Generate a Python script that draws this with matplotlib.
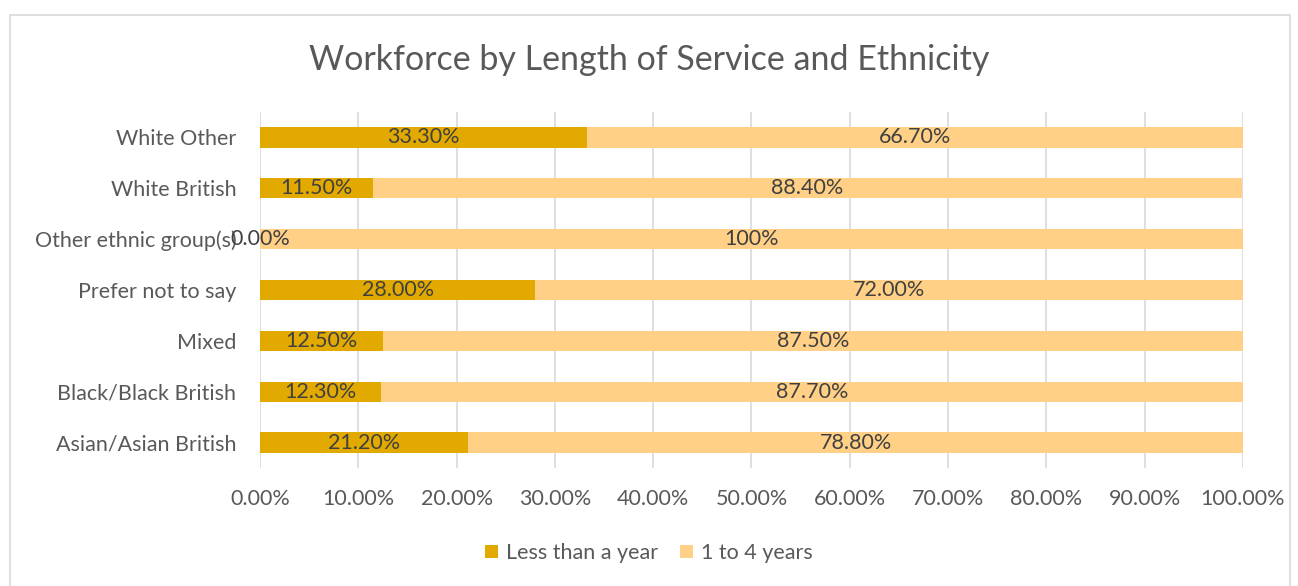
import numpy as np
import matplotlib.pyplot as plt
from matplotlib.patches import Rectangle

categories = ["Asian/Asian British", "Black/Black British", "Mixed", "Prefer not to say",
              "Other ethnic group(s)", "White British", "White Other"]
less_than_year = [21.2, 12.3, 12.5, 28.0, 0.0, 11.5, 33.3]
one_to_four = [78.8, 87.7, 87.5, 72.0, 100.0, 88.4, 66.7]
less_labels = ["21.20%", "12.30%", "12.50%", "28.00%", "0.00%", "11.50%", "33.30%"]
four_labels = ["78.80%", "87.70%", "87.50%", "72.00%", "100%", "88.40%", "66.70%"]
xticks = [0, 10, 20, 30, 40, 50, 60, 70, 80, 90, 100]

DARK = "#E2AA00"
LIGHT = "#FFD086"
TXT = "#595959"
FS = 15.5
plt.rcParams['font.family'] = ['Lato', 'DejaVu Sans']

W, H = 1298, 586
fig = plt.figure(figsize=(W / 100, H / 100), dpi=100)
ax = fig.add_axes([260 / W, 1 - 468 / H, (1243 - 260) / W, (468 - 112) / H])

y = np.arange(len(categories))
ax.barh(y, less_than_year, height=0.4, color=DARK, label="Less than a year", zorder=3)
ax.barh(y, one_to_four, height=0.4, left=less_than_year, color=LIGHT, label="1 to 4 years", zorder=3)

for i in range(len(categories)):
    ax.text(less_than_year[i] / 2, y[i], less_labels[i], ha="center", va="center",
            fontsize=FS, color="#404040", zorder=4)
    ax.text(less_than_year[i] + one_to_four[i] / 2, y[i], four_labels[i], ha="center", va="center",
            fontsize=FS, color="#404040", zorder=4)

ax.set_xlim(0, 100)
ax.set_ylim(-0.5, len(categories) - 0.5)
ax.set_xticks(xticks)
ax.set_xticklabels([f"{v:.2f}%" for v in xticks])
ax.set_yticks(y)
ax.set_yticklabels(categories)
ax.tick_params(axis="both", length=0, labelsize=FS, labelcolor=TXT)
ax.tick_params(axis="x", pad=15)
ax.tick_params(axis="y", pad=17)
ax.grid(axis="x", color="#D9D9D9", linewidth=1.2, zorder=0)
for s in ax.spines.values():
    s.set_visible(False)

fig.suptitle("Workforce by Length of Service and Ethnicity", x=0.5, y=1 - 60 / H, va="center",
             fontsize=24.5, color=TXT)

leg = fig.legend(loc="center", bbox_to_anchor=(0.5, 1 - 553 / H), ncol=2, frameon=False,
                 fontsize=FS, handlelength=0.6, handleheight=0.6, columnspacing=1.0,
                 handletextpad=0.4, labelcolor=TXT)

fig.patches.append(Rectangle((10 / W, -0.01), (1290 - 10) / W, 1 - 15 / H + 0.01, transform=fig.transFigure,
                             fill=False, edgecolor="#D9D9D9", linewidth=1.2))

fig.savefig("out.png", dpi=100, facecolor="white")
